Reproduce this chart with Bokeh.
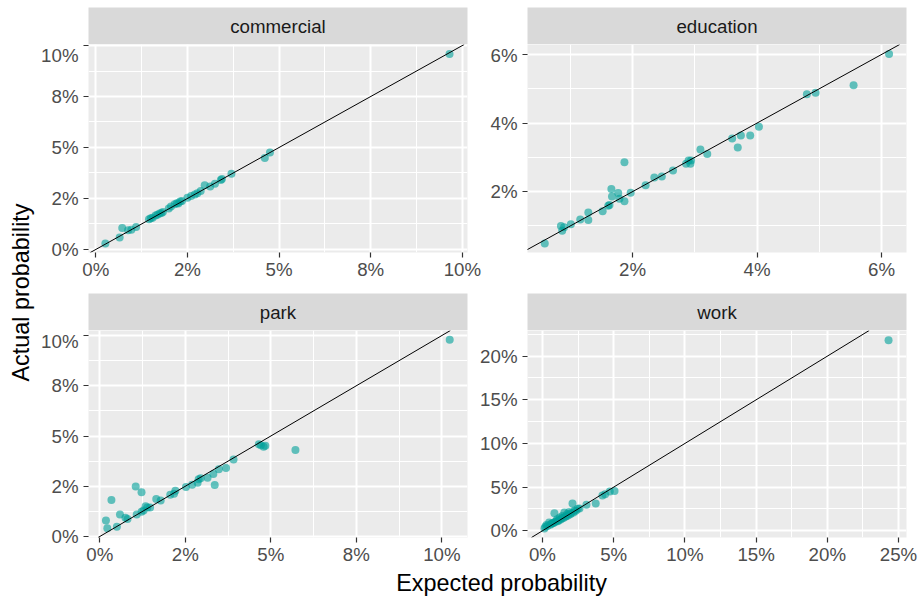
import math
from bokeh.plotting import figure
from bokeh.models import Range1d, FixedTicker, Slope, Label, ColumnDataSource, PrintfTickFormatter
from bokeh.layouts import row, column
from bokeh.embed import file_html
from bokeh.resources import INLINE

# ---------------- data (percent units) ----------------
comm_x = [0.26, 0.65, 0.72, 0.88, 0.97, 1.10, 1.45, 1.50, 1.55, 1.63, 1.68, 1.74, 1.79, 1.83, 1.99, 2.05, 2.15, 2.21,
          2.25, 2.30, 2.35, 2.50, 2.60, 2.70, 2.77, 2.86, 2.97, 3.12, 3.25, 3.41, 3.44, 3.70, 4.61, 4.75, 9.65]
comm_y = [0.29, 0.59, 1.05, 0.94, 0.97, 1.10, 1.48, 1.53, 1.55, 1.66, 1.70, 1.76, 1.79, 1.83, 2.01, 2.11, 2.21, 2.27,
          2.25, 2.35, 2.37, 2.54, 2.62, 2.70, 2.76, 2.86, 3.15, 3.09, 3.22, 3.41, 3.46, 3.71, 4.49, 4.75, 9.59]

edu_x = [0.59, 0.85, 0.87, 0.90, 1.01, 1.16, 1.29, 1.29, 1.52, 1.61, 1.63, 1.66, 1.67, 1.77, 1.79, 1.87, 1.87, 1.97,
         2.21, 2.35, 2.47, 2.65, 2.86, 2.90, 2.93, 2.94, 3.09, 3.20, 3.60, 3.69, 3.74, 3.89, 4.03, 4.80, 4.94, 5.55, 6.12]
edu_y = [0.49, 1.00, 0.86, 0.96, 1.05, 1.19, 1.39, 1.17, 1.43, 1.59, 1.61, 2.08, 1.86, 1.96, 1.79, 1.72, 2.86, 1.97,
         2.19, 2.41, 2.44, 2.62, 2.81, 2.91, 2.81, 2.91, 3.23, 3.10, 3.55, 3.29, 3.64, 3.64, 3.89, 4.84, 4.88, 5.10, 6.01]

park_x = [0.18, 0.22, 0.34, 0.50, 0.59, 0.75, 0.81, 1.05, 1.08, 1.22, 1.22, 1.28, 1.34, 1.39, 1.47, 1.65, 1.78, 2.06,
          2.17, 2.21, 2.52, 2.70, 2.86, 2.89, 2.95, 3.15, 3.32, 3.36, 3.48, 3.69, 3.91, 4.65, 4.71, 4.79, 4.84, 5.72, 10.23]
park_y = [0.79, 0.41, 1.82, 0.49, 1.10, 0.93, 0.87, 2.49, 1.10, 2.20, 1.23, 1.29, 1.51, 1.44, 1.44, 1.87, 1.79, 2.08,
          2.13, 2.28, 2.46, 2.57, 2.67, 2.85, 2.90, 2.92, 3.11, 2.56, 3.34, 3.41, 3.83, 4.59, 4.54, 4.46, 4.51, 4.31, 9.79]

work_x = [0.14, 0.20, 0.28, 0.35, 0.47, 0.55, 0.62, 0.70, 0.78, 0.84, 0.88, 0.95, 1.03, 1.08, 1.15, 1.22, 1.28, 1.35,
          1.40, 1.47, 1.54, 1.60, 1.67, 1.73, 1.80, 1.87, 1.95, 2.02, 2.11, 2.18, 2.25, 2.35, 2.48, 2.60, 3.09, 3.74,
          4.21, 4.40, 4.73, 5.06, 24.3]
work_y = [0.27, 0.45, 0.65, 0.55, 0.95, 0.70, 0.80, 0.85, 0.90, 2.00, 1.00, 1.10, 1.32, 1.10, 1.20, 1.51, 1.30, 1.40,
          1.70, 1.45, 2.08, 1.60, 1.65, 1.92, 1.75, 2.15, 1.90, 2.00, 3.13, 2.10, 2.31, 2.30, 2.53, 2.55, 2.99, 3.13,
          4.04, 4.19, 4.49, 4.57, 21.81]

ticks_10 = [0, 2.5, 5, 7.5, 10]
labels_10 = ["0%", "2%", "5%", "8%", "10%"]
minor_10 = [1.25, 3.75, 6.25, 8.75]
ticks_6 = [2, 4, 6]
labels_6 = ["2%", "4%", "6%"]
minor_6 = [1, 3, 5]
ticks_25x = [0, 5, 10, 15, 20, 25]
labels_25x = ["0%", "5%", "10%", "15%", "20%", "25%"]
ticks_25y = [0, 5, 10, 15, 20]
labels_25y = ["0%", "5%", "10%", "15%", "20%"]
minor_25 = [2.5, 7.5, 12.5, 17.5, 22.5]

FONT = "Liberation Sans"
PT_COLOR = "#00A099"


def panel(xs, ys, xr, yr, xt, xl, xm, yt, yl, ym, width, height, bl, br, bb):
    p = figure(width=width, height=height, x_range=Range1d(*xr), y_range=Range1d(*yr), title=None,
               output_backend="svg", toolbar_location=None,
               min_border_left=bl, min_border_right=br, min_border_top=0, min_border_bottom=bb)
    p.background_fill_color = "#EBEBEB"
    p.border_fill_color = "white"
    p.outline_line_color = None
    for ax, t, l, m, so in ((p.xaxis[0], xt, xl, xm, 1), (p.yaxis[0], yt, yl, ym, 5)):
        ax.ticker = FixedTicker(ticks=t, minor_ticks=m)
        ax.formatter = PrintfTickFormatter(format="%d%%")
        ax.major_label_overrides = {k: v for k, v in zip(t, l)}
        ax.axis_line_color = None
        ax.major_tick_line_color = "#333333"
        ax.major_tick_line_width = 1.2
        ax.major_tick_out = 5
        ax.major_tick_in = 0
        ax.minor_tick_line_color = None
        ax.major_label_text_font = FONT
        ax.major_label_text_font_size = "18.7px"
        ax.major_label_text_color = "#4D4D4D"
        ax.major_label_standoff = so
    for g, t, m in ((p.xgrid[0], xt, xm), (p.ygrid[0], yt, ym)):
        g.ticker = FixedTicker(ticks=t, minor_ticks=m)
        g.grid_line_color = "white"
        g.grid_line_width = 2
        g.minor_grid_line_color = "white"
        g.minor_grid_line_width = 1
    src = ColumnDataSource(dict(x=xs, y=ys))
    p.scatter("x", "y", source=src, size=8, fill_color=PT_COLOR, fill_alpha=0.6, line_color=None)
    p.add_layout(Slope(gradient=1, y_intercept=0, line_color="black", line_width=1))
    return p


def strip(name, width, height, top, bl, br):
    s = figure(width=width, height=height, x_range=Range1d(0, 1), y_range=Range1d(0, 1), title=None,
               x_axis_type=None, y_axis_type=None, output_backend="svg", toolbar_location=None,
               min_border_left=bl, min_border_right=br, min_border_top=top, min_border_bottom=0)
    s.background_fill_color = "#D9D9D9"
    s.border_fill_color = "white"
    s.outline_line_color = None
    s.add_layout(Label(x=0.5, y=0.5, text=name, text_align="center", text_baseline="middle",
                       text_font=FONT, text_font_size="18.7px", text_color="#1A1A1A"))
    return s


# row 1: strips 7..44, frames 44..252
s1 = strip("commercial", 446, 44, 7, 50, 17)
p1 = panel(comm_x, comm_y, (-0.2, 10.14), (-0.15, 10.05), ticks_10, labels_10, minor_10,
           ticks_10, labels_10, minor_10, 446, 248, 50, 17, 40)
s2 = strip("education", 436, 44, 7, 43, 14)
p2 = panel(edu_x, edu_y, (0.313, 6.40), (0.226, 6.29), ticks_6, labels_6, minor_6,
           ticks_6, labels_6, minor_6, 436, 248, 43, 14, 40)
# row 2: strips 293..330, frames 330..539
s3 = strip("park", 432, 38, 1, 50, 3)
p3 = panel(park_x, park_y, (-0.33, 10.75), (-0.05, 10.25), ticks_10, labels_10, minor_10,
           ticks_10, labels_10, minor_10, 432, 237, 50, 3, 28)
s4 = strip("work", 450, 38, 1, 57, 14)
p4 = panel(work_x, work_y, (-1.05, 25.56), (-0.77, 22.94), ticks_25x, labels_25x, minor_25,
           ticks_25y, labels_25y, minor_25, 450, 237, 57, 14, 28)

ylab = figure(width=38, height=567, x_range=Range1d(0, 38), y_range=Range1d(0, 567), title=None,
              x_axis_type=None, y_axis_type=None, output_backend="svg", toolbar_location=None,
              min_border=0)
ylab.outline_line_color = None
ylab.add_layout(Label(x=20, y=275, angle=math.pi / 2, text="Actual probability", text_align="center",
                      text_baseline="middle", text_font=FONT, text_font_size="23.4px", text_color="black"))

xlab = figure(width=920, height=30, x_range=Range1d(0, 920), y_range=Range1d(0, 30), title=None,
              x_axis_type=None, y_axis_type=None, output_backend="svg", toolbar_location=None,
              min_border=0)
xlab.outline_line_color = None
xlab.add_layout(Label(x=501, y=15, text="Expected probability", text_align="center",
                      text_baseline="middle", text_font=FONT, text_font_size="23.4px", text_color="black"))

grid = column(row(column(s1, p1), column(s2, p2)), row(column(s3, p3), column(s4, p4)))
layout = column(row(ylab, grid), xlab)

open("out.html", "w").write(file_html(layout, INLINE))
